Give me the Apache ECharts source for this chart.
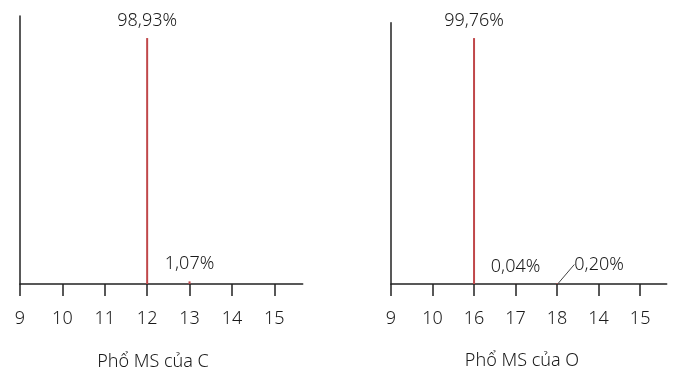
<!DOCTYPE html>
<html>
<head>
<meta charset="utf-8">
<script src="https://cdn.jsdelivr.net/npm/echarts@6/dist/echarts.min.js"></script>
<style>
html,body{margin:0;padding:0;background:#fff;}
#c{width:686px;height:375px;}
</style>
</head>
<body>
<div id="c"></div>
<script>
// Tick labels (category positions 0..6)
const cTickLabels = ['9', '10', '11', '12', '13', '14', '15'];
const oTickLabels = ['9', '10', '16', '17', '18', '14', '15'];
// Peaks: position index, abundance (%)
const cPositions = [3, 4];
const cValues = [98.93, 1.07];
const cValueLabels = ['98,93%', '1,07%'];
const oPositions = [2, 3, 4];
const oValues = [99.76, 0.04, 0.20];
const oValueLabels = ['99,76%', '0,04%', '0,20%'];
const titles = ['Phổ MS của C', 'Phổ MS của O'];

const FONT = '"Noto Sans", "Open Sans", sans-serif';
const FW = 300;
const TXT = '#1a1a1a';
const AX = '#222';
const RED = '#c0474a';
const idx = [0, 1, 2, 3, 4, 5, 6];

function xAxisFor(gridIndex, labels, max) {
  return {
    type: 'value', gridIndex: gridIndex, min: 0, max: max,
    axisLine: {show: true, onZero: false, lineStyle: {color: AX, width: 1.5}},
    axisTick: {show: true, customValues: idx, length: 12, lineStyle: {color: AX, width: 1.5}},
    axisLabel: {show: true, customValues: idx, margin: 26, color: TXT, fontSize: 18, fontFamily: FONT, fontWeight: FW,
      formatter: function (v) { return labels[Math.round(v)]; }},
    splitLine: {show: false}
  };
}
function yAxisFor(gridIndex, max) {
  return {
    type: 'value', gridIndex: gridIndex, min: 0, max: max,
    axisLine: {show: true, lineStyle: {color: AX, width: 1.5}},
    axisTick: {show: false}, axisLabel: {show: false}, splitLine: {show: false}
  };
}
function seriesData(pos, vals, labs, leaderIndex) {
  return pos.map(function (p, i) {
    return {value: [p, vals[i]], label: {formatter: labs[i]},
      labelLine: {show: i === leaderIndex}};
  });
}
const labelBase = {show: true, position: 'top', distance: 8, color: TXT, fontSize: 18, fontFamily: FONT, fontWeight: FW};

const option = {
  animation: false,
  backgroundColor: '#fff',
  title: [
    {text: titles[0], left: 148, top: 348, textAlign: 'center',
      textStyle: {fontSize: 18, fontWeight: FW, color: TXT, fontFamily: FONT}},
    {text: titles[1], left: 517, top: 347, textAlign: 'center',
      textStyle: {fontSize: 18, fontWeight: FW, color: TXT, fontFamily: FONT}}
  ],
  grid: [
    {left: 20, top: 16, width: 282.7, height: 268},
    {left: 391, top: 22.7, width: 275.7, height: 261.3}
  ],
  xAxis: [xAxisFor(0, cTickLabels, 6.67), xAxisFor(1, oTickLabels, 6.64)],
  yAxis: [yAxisFor(0, 107.8), yAxisFor(1, 106.0)],
  series: [
    {type: 'bar', xAxisIndex: 0, yAxisIndex: 0, barWidth: 2,
      itemStyle: {color: RED}, label: labelBase,
      data: seriesData(cPositions, cValues, cValueLabels, -1)},
    {type: 'bar', xAxisIndex: 1, yAxisIndex: 1, barWidth: 2,
      itemStyle: {color: RED}, label: labelBase,
      labelLine: {show: false, lineStyle: {color: '#444', width: 1}},
      labelLayout: function (params) {
        if (params.dataIndex === 2) {
          return {dx: 42, dy: -2};
        }
        return {};
      },
      data: seriesData(oPositions, oValues, oValueLabels, 2)}
  ]
};
const chart = echarts.init(document.getElementById('c'), null, {renderer: 'canvas'});
chart.setOption(option);
</script>
</body>
</html>
